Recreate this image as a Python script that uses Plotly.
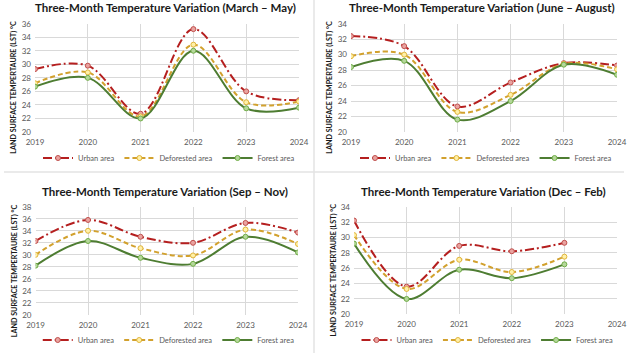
import plotly.graph_objects as go

years = [2019, 2020, 2021, 2022, 2023, 2024]
years_dj = [2019, 2020, 2021, 2022, 2023]

titles = [
    "Three-Month Temperature Variation (March – May)",
    "Three-Month Temperature Variation (June – August)",
    "Three-Month Temperature Variation (Sep – Nov)",
    "Three-Month Temperature Variation (Dec – Feb)",
]
series_names = ["Urban area", "Deforested area", "Forest area"]

mam_urban = [29.3, 29.8, 22.7, 35.2, 26.0, 24.7]
mam_defor = [27.2, 28.8, 22.3, 32.9, 24.4, 24.5]
mam_forest = [26.7, 28.0, 22.0, 32.0, 23.5, 23.6]

jja_urban = [32.4, 31.1, 23.3, 26.4, 28.9, 28.6]
jja_defor = [29.8, 30.0, 22.6, 24.8, 28.8, 28.1]
jja_forest = [28.4, 29.2, 21.6, 24.0, 28.7, 27.4]

son_urban = [32.3, 35.8, 33.0, 32.0, 35.3, 33.7]
son_defor = [30.0, 34.0, 31.1, 29.9, 34.2, 31.8]
son_forest = [28.2, 32.3, 29.5, 28.5, 33.0, 30.4]

djf_urban = [32.2, 23.6, 28.9, 28.2, 29.3]
djf_defor = [30.3, 23.3, 27.1, 25.5, 27.5]
djf_forest = [29.2, 22.0, 25.8, 24.7, 26.5]

y_ranges = [[20, 36], [20, 34], [20, 38], [20, 34]]
y_title = "LAND SURFACE TEMPERTAURE (LST) °C"

W, H = 628, 353
def fx(p): return p / W
def fy(p): return 1 - p / H

# plot-area pixel boxes: (x0, x1, ytop, ybottom)
boxes = [
    (35, 299, 23.7, 132),
    (351, 617, 23.7, 132),
    (35.5, 298, 206.7, 315),
    (354, 617, 206.7, 314.3),
]
title_y = [8, 8, 191, 191]
legend_y = [158, 158, 340, 340]

panel_data = [
    (years, [mam_urban, mam_defor, mam_forest]),
    (years, [jja_urban, jja_defor, jja_forest]),
    (years, [son_urban, son_defor, son_forest]),
    (years_dj, [djf_urban, djf_defor, djf_forest]),
]

styles = [
    dict(line=dict(color="#B51F1F", width=2, dash="9px,3px,2px,3px"),
         marker=dict(color="#E9A3A0", size=5, line=dict(color="#C0504D", width=1))),
    dict(line=dict(color="#D2A12E", width=2, dash="5px,3px"),
         marker=dict(color="#FFF0A8", size=5, line=dict(color="#E0B43A", width=1))),
    dict(line=dict(color="#4E7D32", width=2),
         marker=dict(color="#B5D79B", size=5, line=dict(color="#70AD47", width=1))),
]

fig = go.Figure()
layout = dict(
    width=W, height=H, margin=dict(l=0, r=0, t=0, b=0, autoexpand=False),
    paper_bgcolor="white", plot_bgcolor="white",
    font=dict(family="Lato, 'Open Sans', sans-serif", color="#595959", size=8),
    annotations=[], shapes=[],
)

font_fam = "Lato, 'Open Sans', sans-serif"
for i, (xs, ys_list) in enumerate(panel_data):
    k = "" if i == 0 else str(i + 1)
    x0, x1, yt, yb = boxes[i]
    legname = "legend" if i == 0 else f"legend{i+1}"
    for j, ys in enumerate(ys_list):
        fig.add_trace(go.Scatter(
            x=xs, y=ys, name=series_names[j], mode="lines+markers",
            line=dict(shape="spline", smoothing=1.0, **styles[j]["line"]),
            marker=styles[j]["marker"],
            xaxis="x" + k, yaxis="y" + k, legend=legname,
        ))
    layout["xaxis" + k] = dict(
        domain=[fx(x0), fx(x1)], anchor="y" + k, range=[2019, 2024], dtick=1,
        showgrid=True, gridcolor="#d9d9d9", gridwidth=1, zeroline=False,
        showline=False, ticks="", tickfont=dict(size=8, color="#595959", family=font_fam),
        ticklabelstandoff=4, fixedrange=True,
    )
    layout["yaxis" + k] = dict(
        domain=[fy(yb), fy(yt)], anchor="x" + k, range=y_ranges[i], dtick=2,
        showgrid=True, gridcolor="#d9d9d9", gridwidth=1, zeroline=False,
        showline=False, ticks="", tickfont=dict(size=8, color="#595959", family=font_fam),
        ticklabelstandoff=3, fixedrange=True,
    )
    layout[legname] = dict(
        orientation="h", x=fx((x0 + x1) / 2 + 2), xanchor="center",
        y=fy(legend_y[i]), yanchor="middle", bgcolor="rgba(0,0,0,0)",
        font=dict(size=7.5, color="#595959", family=font_fam),
        itemwidth=30, tracegroupgap=0,
    )
    layout["annotations"].append(dict(
        text="<b>" + titles[i] + "</b>", x=fx((x0 + x1) / 2 - 2), y=fy(title_y[i]),
        xref="paper", yref="paper", xanchor="center", yanchor="middle",
        showarrow=False, font=dict(size=11.5, color="#1a1a1a", family=font_fam),
    ))
    layout["annotations"].append(dict(
        text="<b>" + y_title + "</b>", x=fx(x0 - 21), y=fy((yt + yb) / 2 + 10),
        xref="paper", yref="paper", xanchor="center", yanchor="middle",
        textangle=-90, showarrow=False,
        font=dict(size=7.2, color="#1a1a1a", family=font_fam),
    ))

# separators between the four chart frames
layout["shapes"] += [
    dict(type="line", xref="paper", yref="paper", x0=fx(314), x1=fx(314), y0=0, y1=1,
         line=dict(color="#e3e3e3", width=1.5)),
    dict(type="line", xref="paper", yref="paper", x0=fx(4), x1=fx(624), y0=fy(172), y1=fy(172),
         line=dict(color="#e3e3e3", width=1.5)),
]

fig.update_layout(**layout)
fig.write_html(
    "out.html",
    config={"displayModeBar": False, "staticPlot": True},
    post_script="document.body.style.margin='0';document.body.style.overflow='hidden';",
)
